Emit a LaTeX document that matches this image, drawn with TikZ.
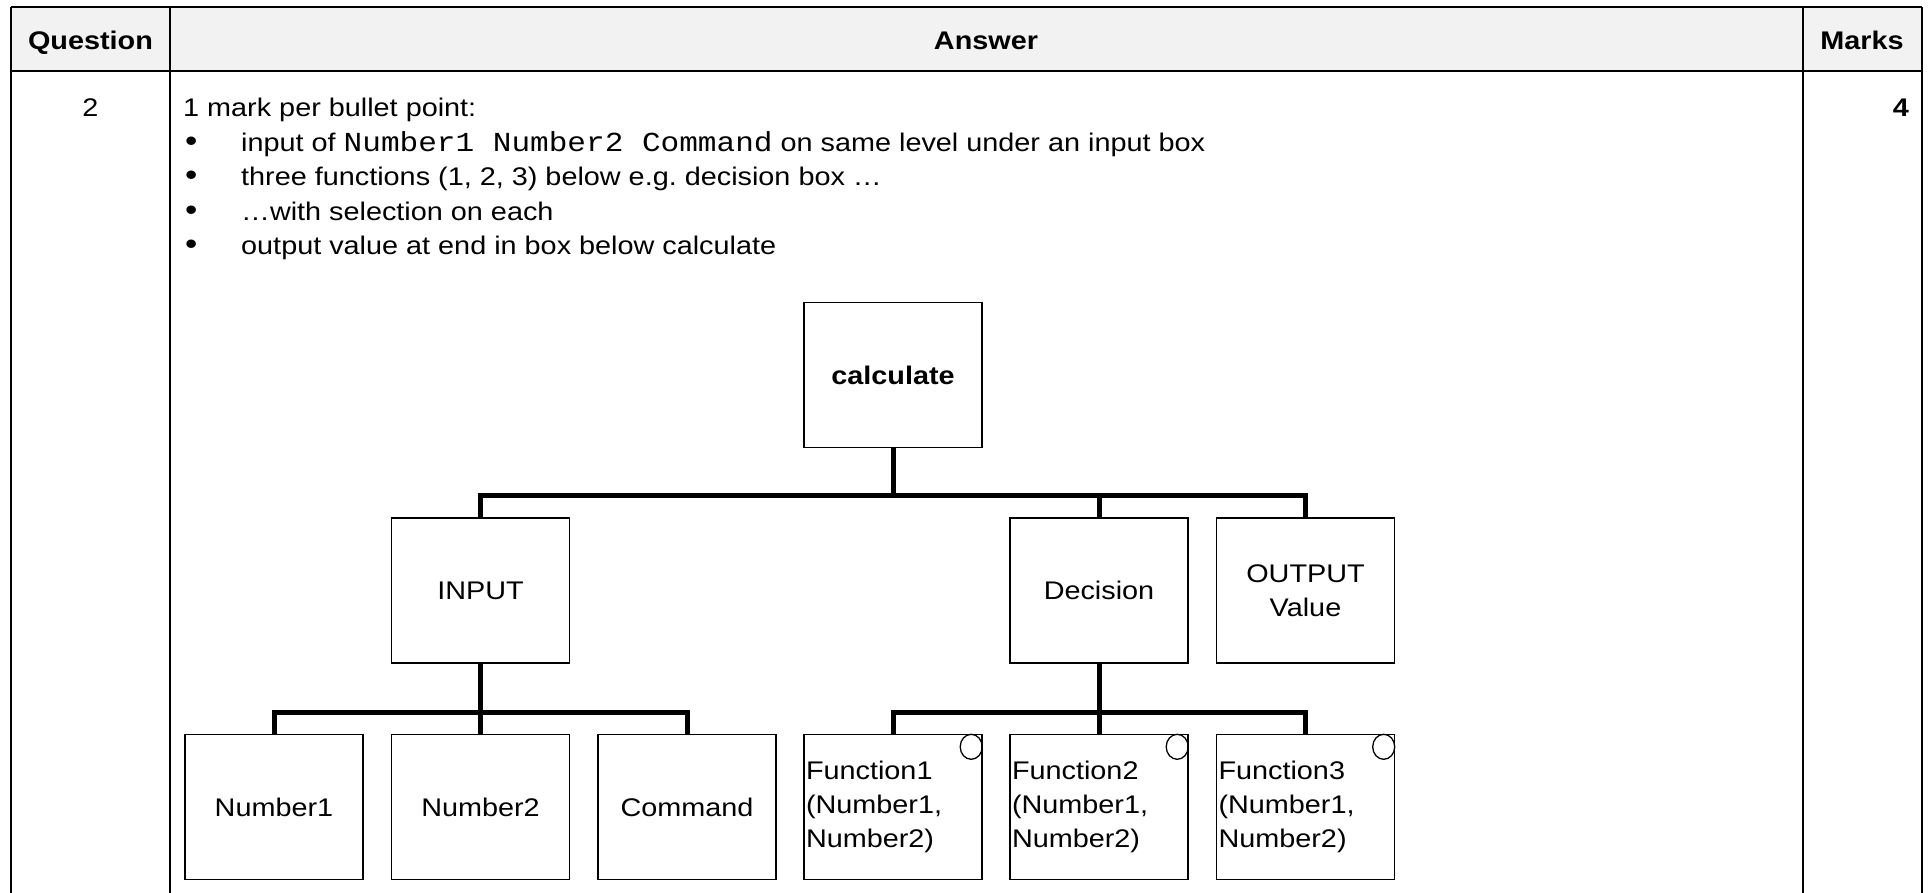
\documentclass[tikz,border=0pt]{standalone}
\usepackage{fontspec}
\setmainfont{Liberation Sans}[FakeStretch=1.13]
\setmonofont{Liberation Mono}[FakeStretch=1.13]
\usetikzlibrary{calc}
\definecolor{hdr}{RGB}{242,242,242}
\newcommand{\bodyfont}{\fontsize{25.5}{34}\selectfont}
\newcommand{\headfont}{\fontsize{25.5}{34}\selectfont\bfseries}
\newcommand{\codefont}{\fontsize{27.5}{34}\selectfont\ttfamily}
\newcommand{\bulletfont}{\fontsize{31}{34}\selectfont}
\begin{document}
\begin{tikzpicture}[x=1pt,y=1pt,
  every node/.style={font=\bodyfont, inner sep=0pt},
  box/.style={draw, line width=1.4pt, minimum width=178pt, minimum height=145pt, inner sep=0pt, align=center},
  fbox/.style={box, text width=174pt, align=left, inner xsep=2pt},
  conn/.style={line width=5pt, line join=miter},
  rule/.style={line width=1.5pt},
  ring/.style={line width=1.3pt},
  dot/.style={anchor=base west, font=\bulletfont}]
\useasboundingbox (0,0) rectangle (1930,-893);
% table
\fill[hdr] (11,-7) rectangle (1922,-71);
\draw[rule] (11,-7) -- (1922,-7);
\draw[line width=2.2pt] (11,-71) -- (1922,-71);
\draw[rule] (11,-7) -- (11,-893);
\draw[rule] (170,-7) -- (170,-893);
\draw[rule] (1803,-7) -- (1803,-893);
\draw[rule] (1922,-7) -- (1922,-893);
\node[anchor=base, font=\headfont] (hq) at (90.5,-50) {Question};
\node[anchor=base, font=\headfont] (ha) at (986,-50) {Answer};
\node[anchor=base, font=\headfont] (hm) at (1862,-50) {Marks};
\node[anchor=base] (qn) at (90.5,-117) {2};
\node[anchor=base east, font=\headfont] (mk) at (1909,-117) {4};
\node[anchor=base west] (intro) at (183,-117) {1 mark per bullet point:};
\node[dot] (b1) at (185,-151.5) {\textbullet};
\node[anchor=base west] (t1) at (241,-151.5) {input of {\codefont Number1 Number2 Command} on same level under an input box};
\node[dot] (b2) at (185,-186) {\textbullet};
\node[anchor=base west] (t2) at (241,-186) {three functions (1, 2, 3) below e.g.\ decision box \ldots};
\node[dot] (b3) at (185,-220.5) {\textbullet};
\node[anchor=base west] (t3) at (241,-220.5) {\ldots with selection on each};
\node[dot] (b4) at (185,-255) {\textbullet};
\node[anchor=base west] (t4) at (241,-255) {output value at end in box below calculate};
% diagram boxes
\node[box, font=\headfont] (calc) at (893,-375) {calculate};
\node[box] (inp) at (480.5,-590.5) {INPUT};
\node[box] (dec) at (1099,-590.5) {Decision};
\node[box] (out) at (1305.5,-590.5) {OUTPUT\\Value};
\node[box] (n1) at (274,-807) {Number1};
\node[box] (n2) at (480.5,-807) {Number2};
\node[box] (cmd) at (687,-807) {Command};
\node[fbox] (f1) at (893,-807) {Function1\\(Number1,\\Number2)};
\node[fbox] (f2) at (1099,-807) {Function2\\(Number1,\\Number2)};
\node[fbox] (f3) at (1305.5,-807) {Function3\\(Number1,\\Number2)};
% selection circles
\foreach \f in {f1,f2,f3}
  \draw[ring] ($(\f.north east)+(-11.5,-13)$) ellipse [x radius=11, y radius=12.5];
% connectors
\coordinate (bus1) at (893,-495);
\draw[conn] (calc.south) -- (bus1);
\draw[conn] (inp.north) |- (bus1) -| (out.north);
\draw[conn] (dec.north) -- (dec.north |- bus1);
\coordinate (bus2) at (480.5,-712);
\draw[conn] (inp.south) -- (n2.north);
\draw[conn] (n1.north) |- (bus2) -| (cmd.north);
\coordinate (bus3) at (1099,-712);
\draw[conn] (dec.south) -- (f2.north);
\draw[conn] (f1.north) |- (bus3) -| (f3.north);
\end{tikzpicture}
\end{document}
